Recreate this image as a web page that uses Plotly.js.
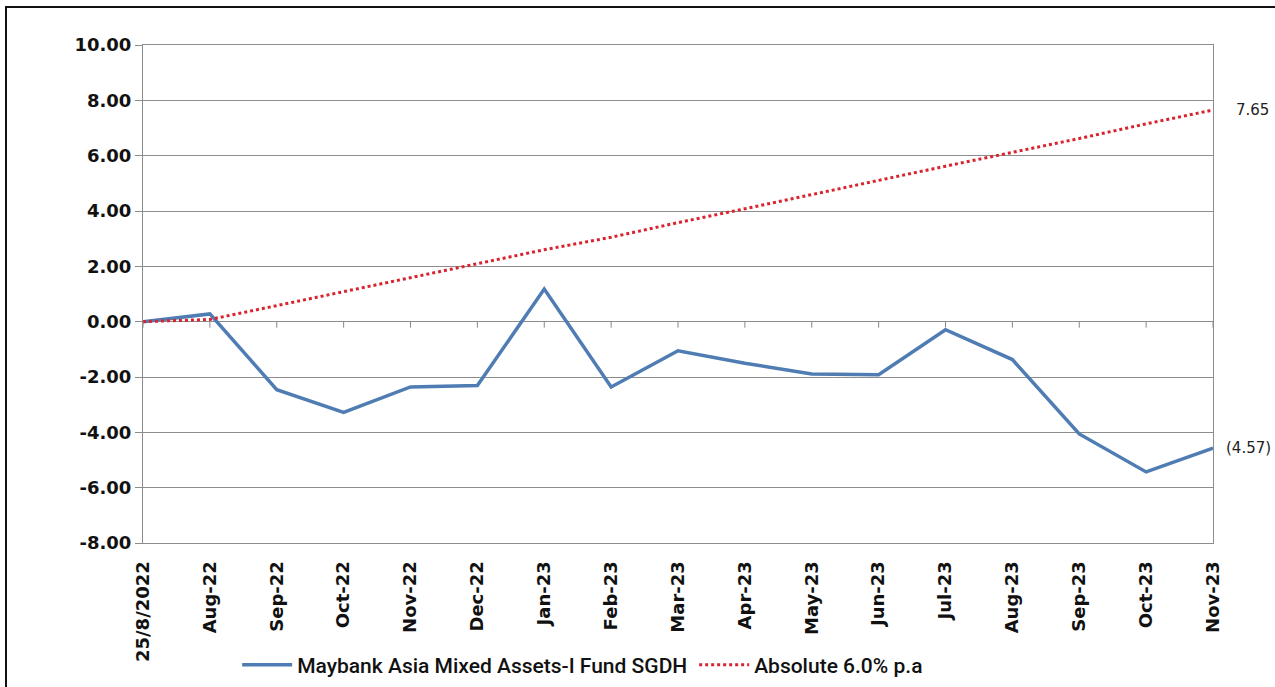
<!DOCTYPE html>
<html>
<head>
<meta charset="utf-8">
<script src="https://cdn.plot.ly/plotly-3.0.1.min.js"></script>
<style>
  html, body { margin: 0; padding: 0; background: #fff; }
  #frame { position: absolute; left: 5px; top: 6px; width: 1300px; height: 700px;
           border-left: 2px solid #111; border-top: 2px solid #111; pointer-events: none; }
  #chart { width: 1275px; height: 687px; }
</style>
</head>
<body>
<div id="chart"></div>
<div id="frame"></div>
<script>
const categories = ["25/8/2022","Aug-22","Sep-22","Oct-22","Nov-22","Dec-22","Jan-23","Feb-23","Mar-23","Apr-23","May-23","Jun-23","Jul-23","Aug-23","Sep-23","Oct-23","Nov-23"];
const fundValues = [0.00, 0.28, -2.46, -3.28, -2.36, -2.31, 1.18, -2.36, -1.05, -1.50, -1.89, -1.92, -0.29, -1.37, -4.06, -5.43, -4.57];
const benchmarkValues = [0.00, 0.08, 0.58, 1.08, 1.58, 2.08, 2.60, 3.05, 3.58, 4.08, 4.60, 5.10, 5.62, 6.12, 6.62, 7.15, 7.65];
const yTicks = [-8, -6, -4, -2, 0, 2, 4, 6, 8, 10];
const yTickLabels = ["-8.00","-6.00","-4.00","-2.00","0.00","2.00","4.00","6.00","8.00","10.00"];
const fundName = "Maybank Asia Mixed Assets-I Fund SGDH";
const benchName = "Absolute 6.0% p.a";
const endLabelFund = "(4.57)";
const endLabelBench = "7.65";

const traces = [
  { x: categories, y: fundValues, type: "scatter", mode: "lines", name: fundName,
    line: { color: "#4f7db3", width: 3.5 } },
  { x: categories, y: benchmarkValues, type: "scatter", mode: "lines", name: benchName,
    line: { color: "#d9232e", width: 3, dash: "dot" } }
];

const tickShapes = categories.map(c => ({
  type: "line", xref: "x", yref: "y", x0: c, x1: c,
  ysizemode: "pixel", yanchor: 0, y0: 0, y1: -6,
  line: { color: "#888", width: 1 }
}));

const last = categories[categories.length - 1];
const tickFont = { family: "DejaVu Sans", size: 18, color: "#111", weight: "bold" };
const layout = {
  width: 1275, height: 687,
  margin: { l: 143, r: 62, t: 45, b: 144, autoexpand: false },
  paper_bgcolor: "#fff", plot_bgcolor: "#fff",
  showlegend: true,
  legend: { orientation: "h", x: 0.088, xanchor: "left", y: -0.245, yanchor: "middle",
            font: { family: "Liberation Sans Narrow, Roboto, sans-serif", size: 21, color: "#111", weight: 500 },
            itemwidth: 50, tracegroupgap: 0, entrywidth: 392, entrywidthmode: "pixels" },
  xaxis: {
    type: "category", range: [0, categories.length - 1],
    tickangle: -90, ticks: "", showgrid: false, zeroline: false,
    showline: true, linecolor: "#8c8c8c", linewidth: 1, mirror: true,
    tickfont: tickFont, ticklabelstandoff: 10,
    automargin: false
  },
  yaxis: {
    range: [-8, 10], tickvals: yTicks, ticktext: yTickLabels,
    ticks: "outside", ticklen: 7, tickcolor: "#8c8c8c",
    showgrid: true, gridcolor: "#8c8c8c", gridwidth: 1,
    zeroline: true, zerolinecolor: "#8c8c8c", zerolinewidth: 1,
    showline: true, linecolor: "#8c8c8c", linewidth: 1, mirror: true,
    tickfont: tickFont,
    automargin: false
  },
  shapes: tickShapes,
  annotations: [
    { x: last, y: benchmarkValues[benchmarkValues.length - 1], xref: "x", yref: "y",
      text: endLabelBench, showarrow: false, xanchor: "left", xshift: 21,
      font: { family: "DejaVu Sans", size: 15, color: "#222" } },
    { x: last, y: fundValues[fundValues.length - 1], xref: "x", yref: "y",
      text: endLabelFund, showarrow: false, xanchor: "left", xshift: 11,
      font: { family: "DejaVu Sans", size: 15, color: "#222" } }
  ]
};

Plotly.newPlot("chart", traces, layout, { displayModeBar: false, staticPlot: true });
</script>
</body>
</html>
